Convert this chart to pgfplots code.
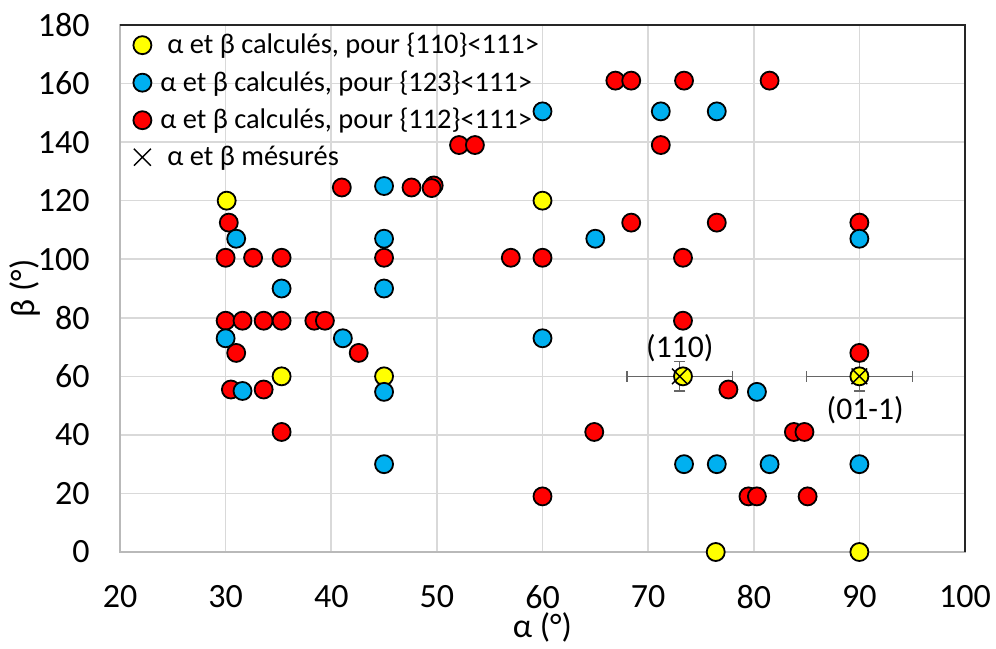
\documentclass[border=0pt]{standalone}
\usepackage{pgfplots}
\pgfplotsset{compat=1.18}
\usepackage{fontspec}
\setmainfont{Carlito}
\definecolor{cyel}{HTML}{FFFF00}
\definecolor{cblu}{HTML}{00B0F0}
\definecolor{cred}{HTML}{FF0000}
\definecolor{cgrid}{HTML}{D9D9D9}
\begin{document}
\begin{tikzpicture}
\begin{axis}[
  name=ax,
  scale only axis,
  width=422.5pt, height=263.5pt,
  xmin=20, xmax=100, ymin=0, ymax=180,
  xtick={20,30,...,100}, ytick={0,20,...,180},
  grid=major,
  grid style={cgrid, line width=0.8pt},
  major tick length=0pt,
  axis line style={draw=gray!55, line width=0.8pt},
  /pgf/number format/assume math mode=true,
  tick label style={font=\fontsize{17}{20}\selectfont},
  yticklabel style={inner sep=0pt, xshift=-15pt},
  xticklabel style={inner sep=0pt, yshift=-16.5pt},
  xlabel={α (°)}, ylabel={β (°)},
  label style={font=\fontsize{17}{20}\selectfont},
  xlabel style={at={(axis description cs:0.5,0)}, anchor=center, yshift=-37.5pt},
  ylabel style={at={(axis description cs:0,0.5)}, anchor=center, yshift=47.5pt},
  clip=false,
  legend cell align=left,
  legend style={draw=none, fill=none, at={(rel axis cs:0,1)}, anchor=north west,
    font=\fontsize{14.2}{16}\selectfont, row sep=3pt, inner xsep=6.5pt, inner ysep=2pt},
  legend image code/.code={\draw[mark repeat=2,mark phase=2,#1] plot coordinates {(0pt,0pt)(8pt,0pt)(16pt,0pt)};},
  every axis plot/.append style={mark size=4.5pt, line width=0.9pt},
]
\draw[black!85, line width=0.9pt] (rel axis cs:0,1) -- (rel axis cs:1,1) -- (rel axis cs:1,0);

\addlegendimage{only marks, mark=*, mark options={fill=cyel, draw=black}, mark size=4.5pt, line width=0.9pt}
\addlegendentry{\hspace{6pt}α et β calculés, pour \{110\}<111>}
\addlegendimage{only marks, mark=*, mark options={fill=cblu, draw=black}, mark size=4.5pt, line width=0.9pt}
\addlegendentry{\hspace{2.5pt}α et β calculés, pour \{123\}<111>}
\addlegendimage{only marks, mark=*, mark options={fill=cred, draw=black}, mark size=4.5pt, line width=0.9pt}
\addlegendentry{\hspace{2.5pt}α et β calculés, pour \{112\}<111>}
\addlegendimage{only marks, mark=x, mark options={draw=black, line width=0.7pt}, mark size=6pt}
\addlegendentry{\hspace{6pt}α et β mésurés}

% yellow {110}<111>
\addplot[forget plot, only marks, mark=*, mark options={fill=cyel, draw=black}] coordinates {
(30.1,120) (60,120) (35.3,60) (45,60) (73.3,60) (90,60) (76.4,0) (90,0)
};
% red {112}<111>
\addplot[forget plot, only marks, mark=*, mark options={fill=cred, draw=black}] coordinates {
(66.9,161) (68.4,161) (73.4,161) (81.5,161)
(52.1,139) (53.6,139) (71.2,139)
(41,124.5) (47.6,124.5) (49.7,125.2) (49.5,124.3)
(30.3,112.5) (68.4,112.5) (76.5,112.5) (90,112.5)
(30,100.5) (32.6,100.5) (35.3,100.5) (45,100.5) (57,100.5) (60,100.5) (73.3,100.5)
(30,79) (31.6,79) (33.6,79) (35.3,79) (38.4,79) (39.4,79) (73.3,79)
(31,68) (42.6,68) (90,68)
(30.5,55.5) (33.6,55.5) (77.6,55.5)
(35.3,41) (64.9,41) (83.8,41) (84.8,41)
(60,19) (79.5,19) (80.3,19) (85.1,19)
};
% blue {123}<111>
\addplot[forget plot, only marks, mark=*, mark options={fill=cblu, draw=black}] coordinates {
(60,150.5) (71.2,150.5) (76.5,150.5)
(45,125)
(31,107) (45,107) (65,107) (90,107)
(35.3,90) (45,90)
(30,73) (41.1,73) (60,73)
(31.6,55) (45,54.7) (80.3,54.7)
(45,30) (73.4,30) (76.5,30) (81.5,30) (90,30)
};
% measured
\addplot[forget plot, only marks, mark=x, mark size=5.5pt, mark options={draw=black, line width=0.7pt},
  error bars/.cd, x dir=both, x explicit, y dir=both, y explicit,
  error bar style={draw=gray!80!black, line width=0.6pt},
  error mark options={draw=gray!80!black, rotate=90, mark size=2.75pt, line width=0.6pt}]
  coordinates {
(73.0,60) +- (5,5)
(90,60) +- (5,5)
};
\node[font=\fontsize{15.8}{18}\selectfont] at (axis cs:73.0,69.7) {(110)};
\node[font=\fontsize{15.8}{18}\selectfont] at (axis cs:90.55,48.5) {(01-1)};
\end{axis}
\path ([shift={(-60pt,-43.5pt)}]ax.south west) rectangle ([shift={(15.5pt,12.5pt)}]ax.north east);
\end{tikzpicture}
\end{document}
